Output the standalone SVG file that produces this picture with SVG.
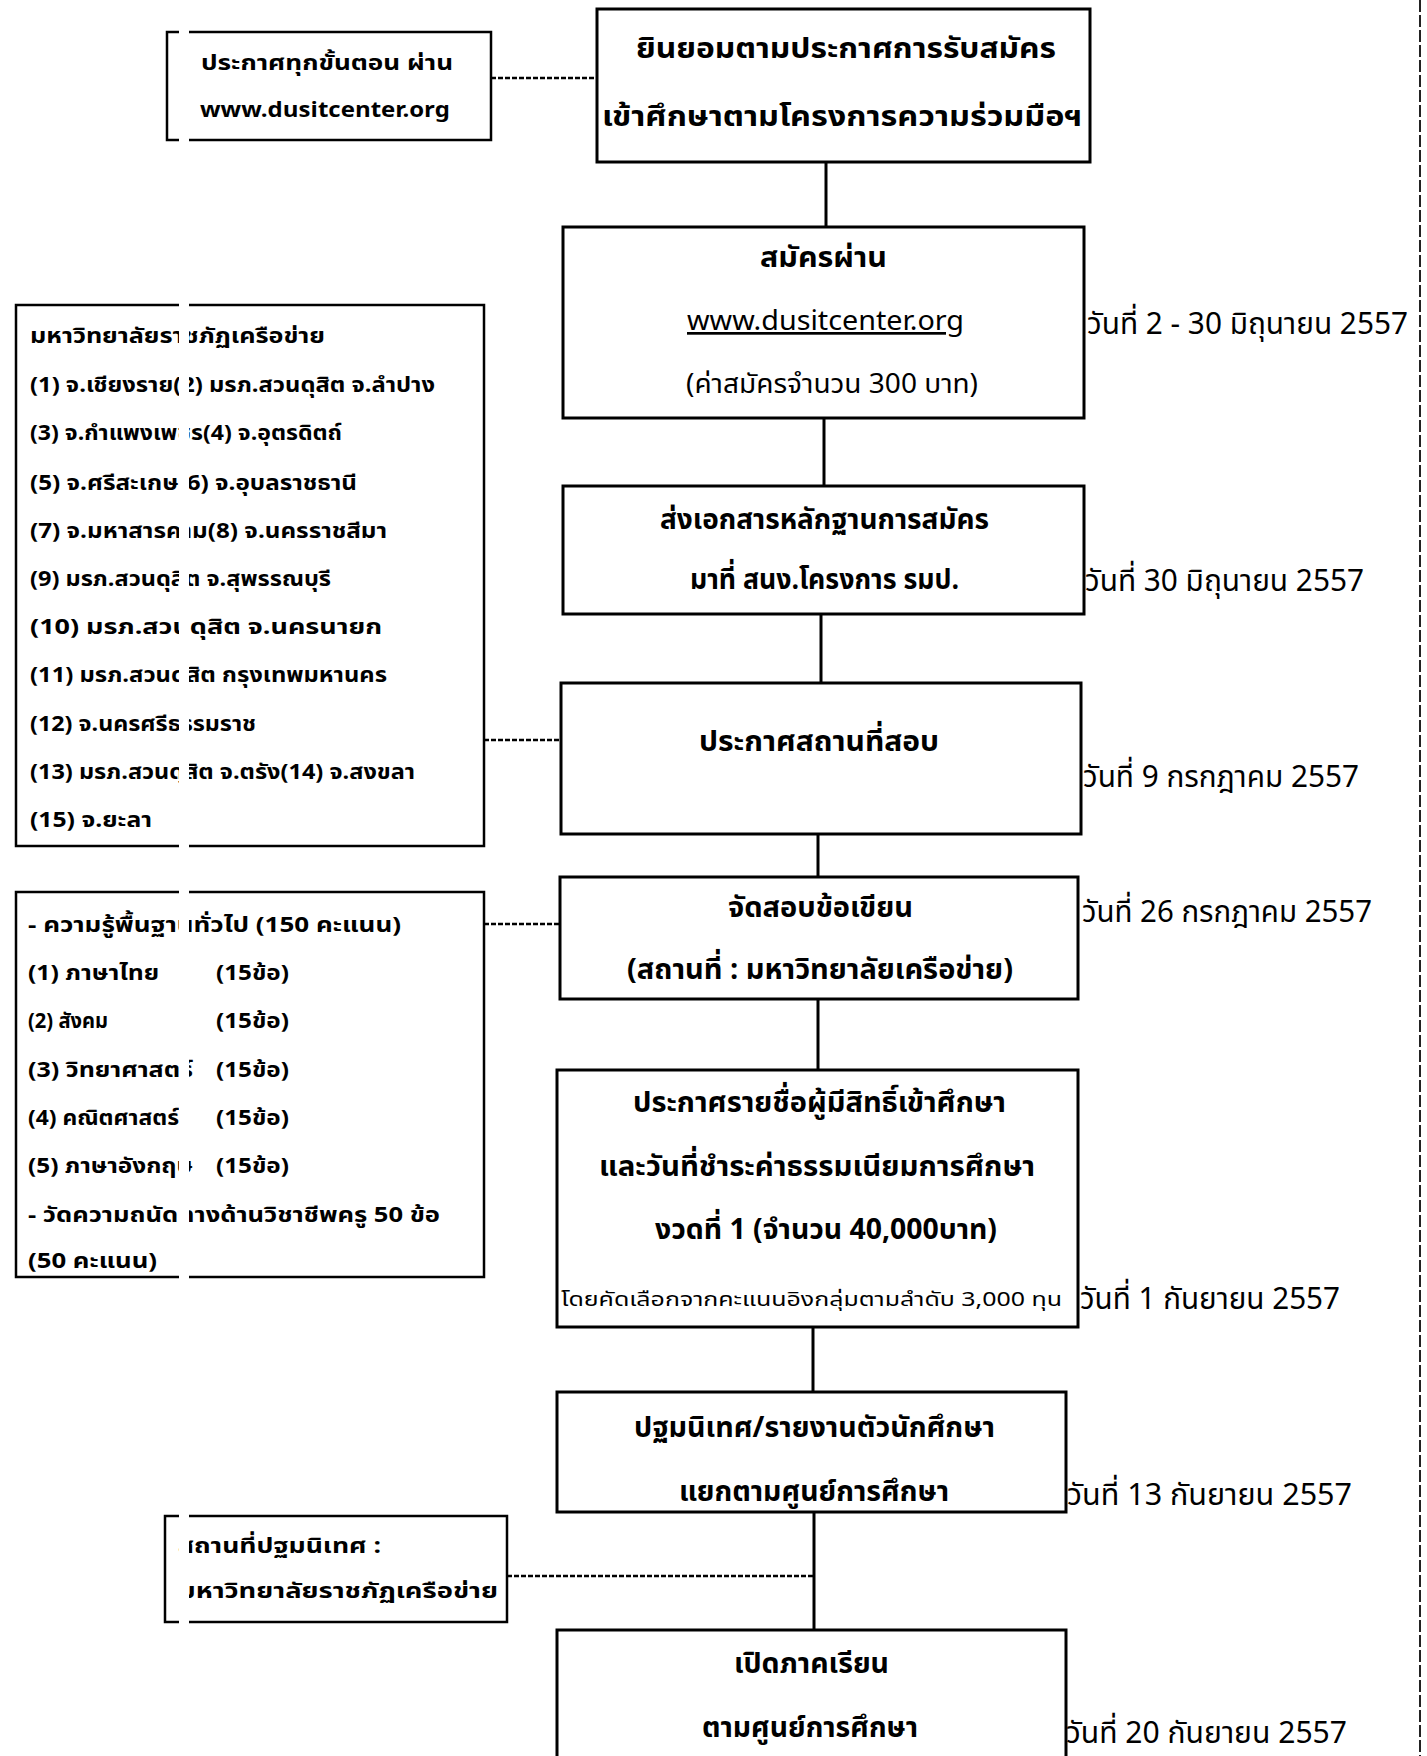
<svg xmlns="http://www.w3.org/2000/svg" width="1427" height="1756" viewBox="0 0 1427 1756">
<style>
.box{fill:#fff;stroke:#000;stroke-width:3}
.sbox{fill:#fff;stroke:#000;stroke-width:2.5}
.ln{stroke:#000;stroke-width:3;fill:none}
.dash{stroke:#000;stroke-width:2.5;stroke-dasharray:5 2;fill:none}
text{font-family:"Noto Sans Thai","Noto Sans","DejaVu Sans",sans-serif;fill:#000}
.m{font-size:29px;font-weight:bold}
.r{font-size:27px}
.d{font-size:30px}
.s{font-size:21px;font-weight:bold}
</style>
<rect width="1427" height="1756" fill="#fff"/>
<g id="connectors">
<line class="ln" x1="826" y1="162" x2="826" y2="227"/>
<line class="ln" x1="824" y1="418" x2="824" y2="486"/>
<line class="ln" x1="821" y1="614" x2="821" y2="683"/>
<line class="ln" x1="818" y1="834" x2="818" y2="877"/>
<line class="ln" x1="818" y1="999" x2="818" y2="1070"/>
<line class="ln" x1="813" y1="1327" x2="813" y2="1392"/>
<line class="ln" x1="814" y1="1512" x2="814" y2="1630"/>
<line class="dash" x1="491" y1="78" x2="597" y2="78"/>
<line class="dash" x1="484" y1="740" x2="561" y2="740"/>
<line class="dash" x1="484" y1="924" x2="560" y2="924"/>
<line class="dash" x1="507" y1="1576" x2="814" y2="1576"/>
</g>
<g id="n-announce">
<rect class="sbox" x="167" y="32" width="324" height="108"/>
<text class="s" x="201" y="70" textLength="252" lengthAdjust="spacingAndGlyphs">ประกาศทุกขั้นตอน ผ่าน</text>
<text class="s" x="200" y="117" textLength="250" lengthAdjust="spacingAndGlyphs">www.dusitcenter.org</text>
</g>
<g id="n-accept">
<rect class="box" x="597" y="9" width="493" height="153"/>
<text class="m" x="636" y="58" font-size="31" textLength="420" lengthAdjust="spacingAndGlyphs">ยินยอมตามประกาศการรับสมัคร</text>
<text class="m" x="602" y="126" font-size="31" textLength="480" lengthAdjust="spacingAndGlyphs">เข้าศึกษาตามโครงการความร่วมมือฯ</text>
</g>
<g id="n-apply">
<rect class="box" x="563" y="227" width="521" height="191"/>
<text class="m" x="760" y="267" textLength="127" lengthAdjust="spacingAndGlyphs">สมัครผ่าน</text>
<text class="r" x="687" y="330" textLength="277" lengthAdjust="spacingAndGlyphs" text-decoration="underline">www.dusitcenter.org</text>
<text class="r" x="686" y="393" textLength="292" lengthAdjust="spacingAndGlyphs">(ค่าสมัครจำนวน 300 บาท)</text>
<text class="d" x="1087" y="334" textLength="321" lengthAdjust="spacingAndGlyphs">วันที่ 2 - 30 มิถุนายน 2557</text>
</g>
<g id="n-docs">
<rect class="box" x="563" y="486" width="521" height="128"/>
<text class="m" x="660" y="529" textLength="329" lengthAdjust="spacingAndGlyphs">ส่งเอกสารหลักฐานการสมัคร</text>
<text class="m" x="690" y="589" textLength="269" lengthAdjust="spacingAndGlyphs">มาที่ สนง.โครงการ รมป.</text>
<text class="d" x="1085" y="591" textLength="279" lengthAdjust="spacingAndGlyphs">วันที่ 30 มิถุนายน 2557</text>
</g>
<g id="n-venue">
<rect class="box" x="561" y="683" width="520" height="151"/>
<text class="m" x="699" y="751" textLength="240" lengthAdjust="spacingAndGlyphs">ประกาศสถานที่สอบ</text>
<text class="d" x="1083" y="787" textLength="276" lengthAdjust="spacingAndGlyphs">วันที่ 9 กรกฎาคม 2557</text>
</g>
<g id="n-universities">
<rect class="sbox" x="16" y="305" width="468" height="541"/>
<text class="s" x="30" y="343" textLength="295" lengthAdjust="spacingAndGlyphs">มหาวิทยาลัยราชภัฏเครือข่าย</text>
<text class="s" x="30" y="392" textLength="405" lengthAdjust="spacingAndGlyphs">(1) จ.เชียงราย(2) มรภ.สวนดุสิต จ.ลำปาง</text>
<text class="s" x="30" y="440" textLength="312" lengthAdjust="spacingAndGlyphs">(3) จ.กำแพงเพชร(4) จ.อุตรดิตถ์</text>
<text class="s" x="30" y="490" textLength="327" lengthAdjust="spacingAndGlyphs">(5) จ.ศรีสะเกษ(6) จ.อุบลราชธานี</text>
<text class="s" x="30" y="538" textLength="357" lengthAdjust="spacingAndGlyphs">(7) จ.มหาสารคาม(8) จ.นครราชสีมา</text>
<text class="s" x="30" y="586" textLength="301" lengthAdjust="spacingAndGlyphs">(9) มรภ.สวนดุสิต จ.สุพรรณบุรี</text>
<text class="s" x="30" y="634" textLength="352" lengthAdjust="spacingAndGlyphs">(10) มรภ.สวนดุสิต จ.นครนายก</text>
<text class="s" x="30" y="682" textLength="357" lengthAdjust="spacingAndGlyphs">(11) มรภ.สวนดุสิต กรุงเทพมหานคร</text>
<text class="s" x="30" y="731" textLength="226" lengthAdjust="spacingAndGlyphs">(12) จ.นครศรีธรรมราช</text>
<text class="s" x="30" y="779" textLength="385" lengthAdjust="spacingAndGlyphs">(13) มรภ.สวนดุสิต จ.ตรัง(14) จ.สงขลา</text>
<text class="s" x="30" y="827" textLength="122" lengthAdjust="spacingAndGlyphs">(15) จ.ยะลา</text>
</g>
<g id="n-exam">
<rect class="box" x="560" y="877" width="518" height="122"/>
<text class="m" x="728" y="917" textLength="185" lengthAdjust="spacingAndGlyphs">จัดสอบข้อเขียน</text>
<text class="m" x="627" y="979" textLength="386" lengthAdjust="spacingAndGlyphs">(สถานที่ : มหาวิทยาลัยเครือข่าย)</text>
<text class="d" x="1082" y="922" textLength="290" lengthAdjust="spacingAndGlyphs">วันที่ 26 กรกฎาคม 2557</text>
</g>
<g id="n-subjects">
<rect class="sbox" x="16" y="892" width="468" height="385"/>
<text class="s" x="28" y="932" textLength="373" lengthAdjust="spacingAndGlyphs">- ความรู้พื้นฐานทั่วไป (150 คะแนน)</text>
<text class="s" x="28" y="980" textLength="131" lengthAdjust="spacingAndGlyphs">(1) ภาษาไทย</text>
<text class="s" x="28" y="1028" textLength="80" lengthAdjust="spacingAndGlyphs">(2) สังคม</text>
<text class="s" x="28" y="1077" textLength="165" lengthAdjust="spacingAndGlyphs">(3) วิทยาศาสตร์</text>
<text class="s" x="28" y="1125" textLength="151" lengthAdjust="spacingAndGlyphs">(4) คณิตศาสตร์</text>
<text class="s" x="28" y="1173" textLength="165" lengthAdjust="spacingAndGlyphs">(5) ภาษาอังกฤษ</text>
<text class="s" x="216" y="980" textLength="73" lengthAdjust="spacingAndGlyphs">(15ข้อ)</text>
<text class="s" x="216" y="1028" textLength="73" lengthAdjust="spacingAndGlyphs">(15ข้อ)</text>
<text class="s" x="216" y="1077" textLength="73" lengthAdjust="spacingAndGlyphs">(15ข้อ)</text>
<text class="s" x="216" y="1125" textLength="73" lengthAdjust="spacingAndGlyphs">(15ข้อ)</text>
<text class="s" x="216" y="1173" textLength="73" lengthAdjust="spacingAndGlyphs">(15ข้อ)</text>
<text class="s" x="28" y="1222" textLength="412" lengthAdjust="spacingAndGlyphs">- วัดความถนัดทางด้านวิชาชีพครู 50 ข้อ</text>
<text class="s" x="28" y="1268" textLength="129" lengthAdjust="spacingAndGlyphs">(50 คะแนน)</text>
</g>
<g id="n-results">
<rect class="box" x="557" y="1070" width="521" height="257"/>
<text class="m" x="633" y="1112" textLength="373" lengthAdjust="spacingAndGlyphs">ประกาศรายชื่อผู้มีสิทธิ์เข้าศึกษา</text>
<text class="m" x="599" y="1176" textLength="436" lengthAdjust="spacingAndGlyphs">และวันที่ชำระค่าธรรมเนียมการศึกษา</text>
<text class="m" x="655" y="1239" textLength="342" lengthAdjust="spacingAndGlyphs">งวดที่ 1 (จำนวน 40,000บาท)</text>
<text x="561" y="1306" font-size="20" textLength="501" lengthAdjust="spacingAndGlyphs">โดยคัดเลือกจากคะแนนอิงกลุ่มตามลำดับ 3,000 ทุน</text>
<text class="d" x="1080" y="1309" textLength="260" lengthAdjust="spacingAndGlyphs">วันที่ 1 กันยายน 2557</text>
</g>
<g id="n-orientation">
<rect class="box" x="557" y="1392" width="509" height="120"/>
<text class="m" x="634" y="1437" textLength="361" lengthAdjust="spacingAndGlyphs">ปฐมนิเทศ/รายงานตัวนักศึกษา</text>
<text class="m" x="679" y="1501" textLength="270" lengthAdjust="spacingAndGlyphs">แยกตามศูนย์การศึกษา</text>
<text class="d" x="1067" y="1505" textLength="285" lengthAdjust="spacingAndGlyphs">วันที่ 13 กันยายน 2557</text>
</g>
<g id="n-orient-place">
<rect class="sbox" x="165" y="1516" width="342" height="106"/>
<text class="s" x="178" y="1553" textLength="203" lengthAdjust="spacingAndGlyphs">สถานที่ปฐมนิเทศ :</text>
<text class="s" x="178" y="1598" textLength="320" lengthAdjust="spacingAndGlyphs">มหาวิทยาลัยราชภัฏเครือข่าย</text>
</g>
<g id="n-semester">
<rect class="box" x="557" y="1630" width="509" height="132"/>
<text class="m" x="734" y="1673" textLength="155" lengthAdjust="spacingAndGlyphs">เปิดภาคเรียน</text>
<text class="m" x="702" y="1737" textLength="216" lengthAdjust="spacingAndGlyphs">ตามศูนย์การศึกษา</text>
<text class="d" x="1066" y="1743" textLength="281" lengthAdjust="spacingAndGlyphs">วันที่ 20 กันยายน 2557</text>
</g>
<rect x="179" y="0" width="10" height="1756" fill="#fff"/>
<line x1="1420" y1="0" x2="1420" y2="1756" stroke="#222" stroke-width="2" stroke-dasharray="12 3"/>
</svg>
